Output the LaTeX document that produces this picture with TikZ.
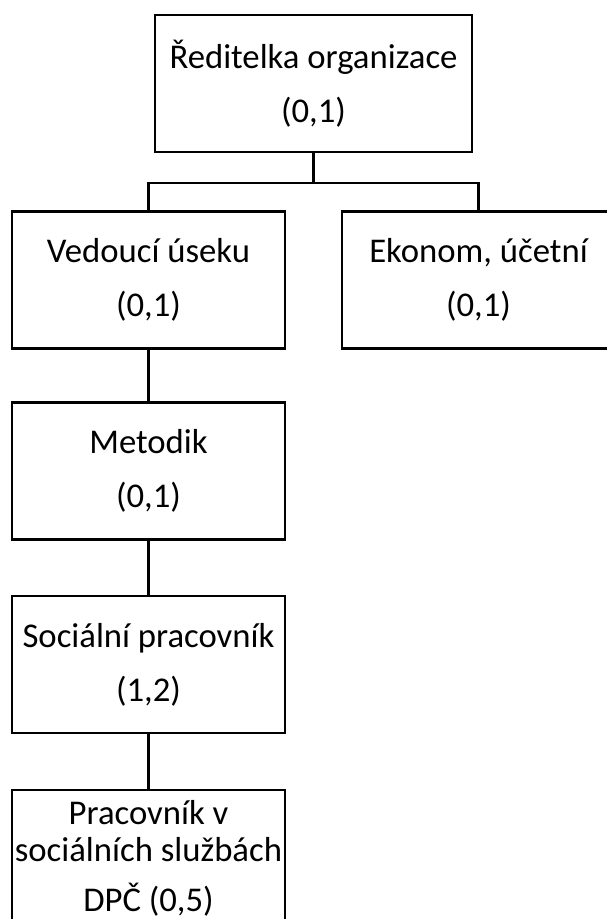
\documentclass[tikz,border=0pt]{standalone}
\usepackage{fontspec}
\setmainfont{Carlito}
\begin{document}
\begin{tikzpicture}[x=1pt,y=1pt,
  unit/.style={draw, line width=2.2pt, rectangle, align=center, inner sep=0pt,
    minimum width=273pt, minimum height=137pt,
    font=\fontsize{34.7}{54}\selectfont},
  link/.style={line width=2.2pt, line join=miter}]
\useasboundingbox (0,0) rectangle (607,-919);
\clip (0,0) rectangle (607,-919);

% organisation units
\node[unit, minimum width=317pt] (dir) at (313.5,-83.5) {Ředitelka organizace\\(0,1)};
\node[unit] (ved) at (148.5,-280) {Vedoucí úseku\\(0,1)};
\node[unit] (eko) at (478.5,-280) {Ekonom, účetní\\(0,1)};
\node[unit] (met) at (148.5,-471) {Metodik\\(0,1)};
\node[unit] (soc) at (148.5,-664.5) {Sociální pracovník\\(1,2)};
\node[unit, font=\fontsize{34.7}{37}\selectfont] (pss) at (148.5,-858.5)
  {Pracovník v\\sociálních službách\\[13pt]DPČ (0,5)};

% reporting lines
\draw[link] (dir.south) -- ++(0,-30) coordinate (fork);
\draw[link] (ved.north) |- (fork) -| (eko.north);
\draw[link] (ved.south) -- (met.north);
\draw[link] (met.south) -- (soc.north);
\draw[link] (soc.south) -- (pss.north);
\end{tikzpicture}
\end{document}
